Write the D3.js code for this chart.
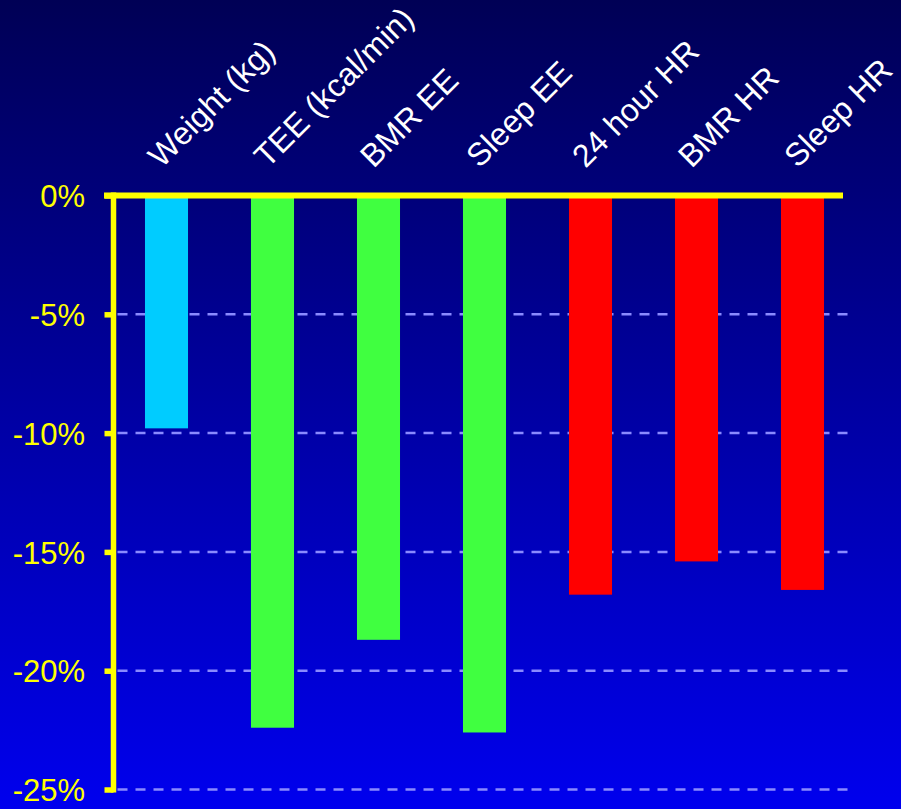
<!DOCTYPE html>
<html>
<head>
<meta charset="utf-8">
<script src="https://cdn.jsdelivr.net/npm/d3@7"></script>
<style>
  html, body { margin: 0; padding: 0; background: #000080; }
  svg { display: block; }
  text { font-family: "Liberation Sans", Arial, sans-serif; }
</style>
</head>
<body>
<div id="chart"></div>
<script>
const categories = ["Weight (kg)", "TEE (kcal/min)", "BMR EE", "Sleep EE", "24 hour HR", "BMR HR", "Sleep HR"];
const values = [-9.8, -22.4, -18.7, -22.6, -16.8, -15.4, -16.6];
const barColors = ["#00ccff", "#40ff40", "#40ff40", "#40ff40", "#ff0000", "#ff0000", "#ff0000"];
const yTicks = [0, -5, -10, -15, -20, -25];
const yTickLabels = ["0%", "-5%", "-10%", "-15%", "-20%", "-25%"];

const W = 901, H = 809;
const svg = d3.select("#chart").append("svg").attr("width", W).attr("height", H);

const defs = svg.append("defs");
const grad = defs.append("linearGradient").attr("id", "bg")
  .attr("x1", 0).attr("y1", 0).attr("x2", 0).attr("y2", 1);
grad.append("stop").attr("offset", "0%").attr("stop-color", "#000055");
grad.append("stop").attr("offset", "100%").attr("stop-color", "#0000ee");
svg.append("rect").attr("width", W).attr("height", H).attr("fill", "url(#bg)");

const x = d3.scaleBand().domain(categories).range([113.5, 855.5])
  .paddingInner(0.594).paddingOuter(0.297);
const y = d3.scaleLinear().domain([0, -25]).range([195.5, 789.5]);

// gridlines
svg.append("g").selectAll("line").data(yTicks.slice(1)).join("line")
  .attr("x1", x.range()[0]).attr("x2", x.range()[1])
  .attr("y1", d => y(d)).attr("y2", d => y(d))
  .attr("stroke", "#8a8aff").attr("stroke-width", 2.5)
  .attr("stroke-dasharray", "10,8").attr("stroke-dashoffset", -4);

// bars
svg.append("g").selectAll("rect").data(values).join("rect")
  .attr("x", (d, i) => x(categories[i]))
  .attr("width", x.bandwidth())
  .attr("y", y(0))
  .attr("height", d => y(d) - y(0))
  .attr("fill", (d, i) => barColors[i]);

// y axis
const yAxis = d3.axisLeft(y).tickValues(yTicks)
  .tickFormat((d, i) => yTickLabels[i]).tickSize(9).tickPadding(19.5);
const gy = svg.append("g").attr("transform", `translate(${x.range()[0]},0)`).call(yAxis);
gy.select(".domain").attr("stroke", "#ffff00").attr("stroke-width", 5.5)
  .attr("d", `M0,${y(0) - 3}V${y(-25) + 3}`);
gy.selectAll(".tick line").attr("stroke", "#ffff00").attr("stroke-width", 5.5).attr("x1", 0);
gy.selectAll(".tick text").attr("fill", "#ffff00").attr("font-size", 31)
  .attr("font-family", "Liberation Sans, Arial, sans-serif").attr("dy", "0.36em");

// zero line
svg.append("line")
  .attr("x1", x.range()[0] - 9.5).attr("x2", x.range()[1] - 12.5)
  .attr("y1", y(0)).attr("y2", y(0))
  .attr("stroke", "#ffff00").attr("stroke-width", 6);

// category labels
svg.append("g").selectAll("text").data(categories).join("text")
  .attr("transform", d => `translate(${x(d) + x.bandwidth() / 2 - 5},169) rotate(-45)`)
  .attr("fill", "#ffffff").attr("font-size", 32)
  .attr("text-anchor", "start")
  .text(d => d);
</script>
</body>
</html>
